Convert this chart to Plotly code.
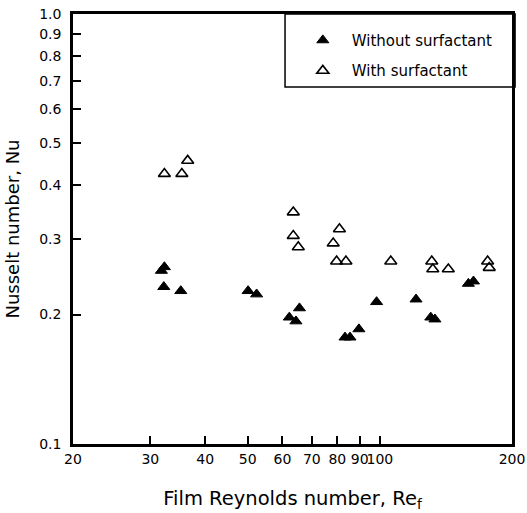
import math
import plotly.graph_objects as go

# Film Reynolds number and Nusselt number, without surfactant (filled)
re_without = [31.8, 32.3, 32.2, 35.2, 50.1, 52.4, 62.2, 64.4, 65.6, 83.3, 85.5, 89.6,
              98.3, 120.9, 130.6, 133.5, 159.1, 163.4]
nu_without = [0.253, 0.258, 0.232, 0.227, 0.227, 0.223, 0.197, 0.193, 0.207, 0.177, 0.177, 0.185,
              0.214, 0.217, 0.197, 0.195, 0.236, 0.239]

# with surfactant (open)
re_with = [32.3, 35.4, 36.5, 63.5, 63.5, 65.2, 78.3, 80.9, 79.7, 83.7, 105.9, 131.3, 132.0,
           143.2, 176.0, 177.5]
nu_with = [0.425, 0.425, 0.456, 0.346, 0.305, 0.287, 0.293, 0.316, 0.266, 0.266, 0.266, 0.266, 0.255,
           0.255, 0.266, 0.257]

x_tickvals = [20, 30, 40, 50, 60, 70, 80, 90, 100, 200]
x_ticktext = ["20", "30", "40", "50", "60", "70", "80", "90", "100", "200"]
y_tickvals = [0.1, 0.2, 0.3, 0.4, 0.5, 0.6, 0.7, 0.8, 0.9, 1.0]
y_ticktext = ["0.1", "0.2", "0.3", "0.4", "0.5", "0.6", "0.7", "0.8", "0.9", "1.0"]

FONT = "DejaVu Sans"

fig = go.Figure()
fig.add_trace(go.Scatter(
    x=re_without, y=nu_without, mode="markers", name="Without surfactant",
    legendgroup="a",
    marker=dict(symbol="triangle-up", size=10.5, color="black",
                line=dict(color="black", width=1)),
))
fig.add_trace(go.Scatter(
    x=re_with, y=nu_with, mode="markers", name="With surfactant",
    legendgroup="b",
    marker=dict(symbol="triangle-up-open", size=10.5, color="black",
                line=dict(color="black", width=1.6)),
))

axis_common = dict(
    type="log", showgrid=False, zeroline=False, automargin=False,
    showline=True, linecolor="black", linewidth=2.5, mirror=True,
    ticks="inside", ticklen=8, tickwidth=1.5, tickcolor="black",
    tickfont=dict(family=FONT, size=14, color="black"),
    tickangle=0,
)

fig.update_xaxes(
    **axis_common,
    range=[math.log10(20) - 1e-6, math.log10(200) + 1e-6],
    tickvals=x_tickvals, ticktext=x_ticktext,
    ticklabelstandoff=0,
    title=dict(text="Film Reynolds number, Re<sub>f</sub>",
               font=dict(family=FONT, size=19.5, color="black"), standoff=26),
)
fig.update_yaxes(
    **axis_common,
    range=[-1 - 1e-6, 1e-6],
    tickvals=y_tickvals, ticktext=y_ticktext,
    ticklabelstandoff=6,
    title=dict(text="Nusselt number, Nu",
               font=dict(family=FONT, size=18, color="black"), standoff=15),
)

# legend frame (box around the legend entries)
fig.add_shape(
    type="rect", xref="paper", yref="paper",
    x0=0.483, x1=1.007, y0=0.830, y1=1.0,
    line=dict(color="black", width=1.5), fillcolor="white", layer="below",
)

fig.update_layout(
    width=527, height=513,
    margin=dict(l=73, r=15, t=14, b=69),
    plot_bgcolor="white", paper_bgcolor="white",
    font=dict(family=FONT, color="black"),
    showlegend=True,
    legend=dict(
        x=0.503, y=0.977, xanchor="left", yanchor="top",
        borderwidth=0, bgcolor="rgba(0,0,0,0)",
        font=dict(family=FONT, size=15, color="black"),
        tracegroupgap=8, itemwidth=48,
    ),
)

fig.write_html("out.html", config={"displayModeBar": False},
               post_script="document.body.style.margin='0';")
